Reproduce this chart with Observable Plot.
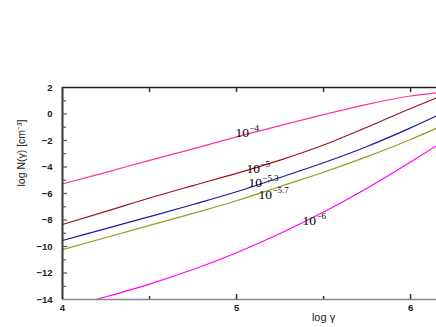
<!DOCTYPE html>
<html>
<head>
<meta charset="utf-8">
<script src="https://cdn.jsdelivr.net/npm/d3@7"></script>
<script src="https://cdn.jsdelivr.net/npm/@observablehq/plot@0.6"></script>
<style>
  html, body { margin: 0; padding: 0; background: #fff; }
  #chart svg { display: block; }
</style>
</head>
<body>
<div id="chart"></div>
<script>
// x grid (log gamma)
const logGamma = [4, 4.25, 4.5, 4.75, 5, 5.25, 5.5, 5.75, 6, 6.15];

// series values (log N(gamma))
const n1e4   = [-5.27, -4.40, -3.50, -2.63, -1.73, -0.88, -0.05, 0.73, 1.36, 1.60];
const n1e5   = [-8.34, -7.35, -6.34, -5.40, -4.48, -3.48, -2.34, -1.00, 0.42, 1.22];
const n1e53  = [-9.55, -8.65, -7.75, -6.83, -5.87, -4.79, -3.68, -2.45, -1.05, -0.14];
const n1e57  = [-10.23, -9.32, -8.41, -7.50, -6.55, -5.47, -4.40, -3.22, -1.92, -1.07];
const n1e6x  = [4.19, 4.25, 4.5, 4.75, 5, 5.25, 5.5, 5.75, 6, 6.15];
const n1e6   = [-14.0, -13.79, -12.84, -11.74, -10.47, -9.02, -7.40, -5.60, -3.63, -2.39];

const seriesNames  = ["1e-4", "1e-5", "1e-5.3", "1e-5.7", "1e-6"];
const seriesColors = ["#ff3399", "#a01020", "#1a1a9a", "#9a9a20", "#ff00ff"];

// curve labels
const labelBase = ["10", "10", "10", "10", "10"];
const labelExp  = ["\u22124", "\u22125", "\u22125.3", "\u22125.7", "\u22126"];
const labelX    = [4.994, 5.057, 5.069, 5.126, 5.379];
const labelY    = [-1.40, -4.11, -5.17, -6.08, -8.04];

// axis ticks
const yTickLabels = [2, 0, -2, -4, -6, -8, -10, -12, -14];
const yMinorTicks = [1, -1, -3, -5, -7, -9, -11, -13];
const yMajorTicks = [0, -2, -4, -6, -8, -10, -12];
const xTickLabels = [4, 5, 6];
const xMajorTicks = [5, 6];
const xMinorTicks = [4.5, 5.5];

const rows = [];
const allY = [n1e4, n1e5, n1e53, n1e57];
allY.forEach((arr, s) => arr.forEach((v, i) => rows.push({x: logGamma[i], y: v, s: seriesNames[s]})));
n1e6.forEach((v, i) => rows.push({x: n1e6x[i], y: v, s: seriesNames[4]}));

const labels = labelBase.map((b, i) => ({x: labelX[i], y: labelY[i], b, e: labelExp[i]}));

const tickFont = {fontSize: 9.5, fontWeight: "bold", fontFamily: "Liberation Sans, Arial, sans-serif", fill: "#222"};

const chart = Plot.plot({
  width: 436,
  height: 327,
  marginTop: 87,
  marginBottom: 28,
  marginLeft: 62,
  marginRight: 0,
  style: {background: "#fff", overflow: "visible"},
  x: {domain: [4, 6.149]},
  y: {domain: [-14, 2]},
  color: {domain: seriesNames, range: seriesColors},
  marks: [
    // curves
    Plot.line(rows, {x: "x", y: "y", z: "s", stroke: "s", strokeWidth: 1.2, curve: "monotone-x", clip: true}),
    // frame
    Plot.ruleY([2], {stroke: "#222", strokeWidth: 1.3}),
    Plot.ruleY([-14], {stroke: "#888", strokeWidth: 1.6}),
    Plot.ruleX([4], {stroke: "#333", strokeWidth: 2}),
    // y axis labels
    Plot.axisY({ticks: yTickLabels, tickSize: 0, tickPadding: 10, label: null, tickFormat: d3.format("d"), ...tickFont}),
    // y inward ticks
    Plot.axisY({ticks: yMajorTicks, tickSize: -5, tickFormat: () => "", label: null, stroke: "#555", strokeWidth: 1.2}),
    Plot.axisY({ticks: yMinorTicks, tickSize: -4, tickFormat: () => "", label: null, stroke: "#555", strokeWidth: 1.2}),
    // x axis labels
    Plot.axisX({ticks: xTickLabels, tickSize: 0, tickPadding: 5, label: null, tickFormat: d3.format("d"), ...tickFont}),
    // x inward ticks bottom
    Plot.axisX({ticks: xMajorTicks, tickSize: -5, tickFormat: () => "", label: null, stroke: "#333", strokeWidth: 1.5}),
    Plot.axisX({ticks: xMinorTicks, tickSize: -3, tickFormat: () => "", label: null, stroke: "#333", strokeWidth: 1.5}),
    // x inward ticks top
    Plot.axisX({anchor: "top", ticks: xMajorTicks.concat(xMinorTicks), tickSize: -4, tickFormat: () => "", label: null, stroke: "#333", strokeWidth: 1.5}),
    // axis titles
    Plot.text(["log \u03b3"], {x: [5.5], frameAnchor: "bottom", dy: 21, fontSize: 11, fontFamily: "Liberation Sans, Arial, sans-serif", fill: "#222"}),
    Plot.text(["log N(\u03b3) [cm\u207b\u00b3]"], {frameAnchor: "left", rotate: -90, dx: -41, dy: -7, fontSize: 10.5, fontFamily: "Liberation Sans, Arial, sans-serif", fill: "#222"}),
    // curve labels
    Plot.text(labels, {x: "x", y: "y", text: "b", textAnchor: "start", fontSize: 13.5, fontFamily: "Liberation Serif, Times New Roman, serif", fill: "#000"}),
    Plot.text(labels, {x: "x", y: "y", text: "e", textAnchor: "start", dx: 14, dy: -4, fontSize: 9, fontFamily: "Liberation Serif, Times New Roman, serif", fill: "#000"})
  ]
});
document.getElementById("chart").appendChild(chart);
</script>
</body>
</html>
